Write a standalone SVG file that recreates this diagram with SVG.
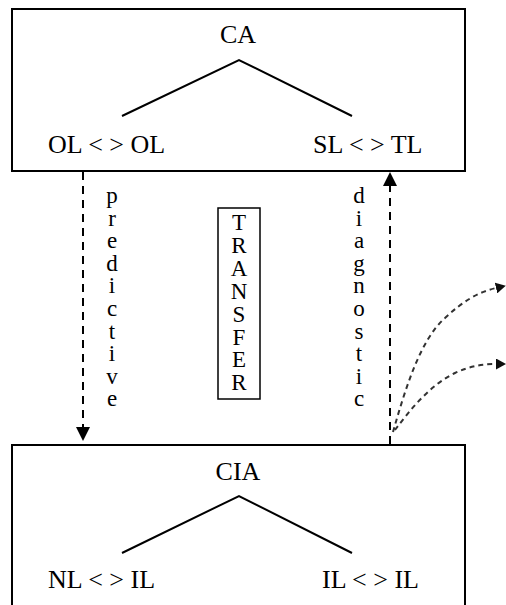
<svg xmlns="http://www.w3.org/2000/svg" width="506" height="605" viewBox="0 0 506 605">
  <style>
    text { font-family: "Liberation Serif", "Times New Roman", serif; fill: #000; }
    .box { fill: #fff; stroke: #000; stroke-width: 2; }
    .tree { fill: none; stroke: #000; stroke-width: 2; }
    .label { font-size: 26px; }
    .vert { font-size: 23px; text-anchor: middle; }
    .link { fill: none; stroke: #000; stroke-width: 2; stroke-dasharray: 8 6; }
    .soft { fill: none; stroke: #333; stroke-width: 2; stroke-dasharray: 5 4; }
  </style>
  <defs>
    <marker id="head" viewBox="0 0 14 14" markerWidth="14" markerHeight="14" refX="0" refY="7" orient="auto" markerUnits="userSpaceOnUse">
      <path d="M0,0 L14,7 L0,14 z" fill="#000"/>
    </marker>
    <marker id="headSmall" viewBox="0 0 10 11" markerWidth="10" markerHeight="11" refX="0" refY="5.5" orient="auto" markerUnits="userSpaceOnUse">
      <path d="M0,0 L10,5.5 L0,11 z" fill="#111"/>
    </marker>
    <filter id="haze" x="-10%" y="-10%" width="120%" height="120%">
      <feGaussianBlur stdDeviation="0.6"/>
    </filter>
  </defs>

  <!-- upper analysis box -->
  <g id="ca">
    <rect class="box" x="12" y="9" width="453" height="162"/>
    <text class="label" x="238" y="43" text-anchor="middle">CA</text>
    <polyline class="tree" points="122,116 239,60 352,116"/>
    <text class="label" x="48" y="153">OL &lt; &gt; OL</text>
    <text class="label" x="313" y="153">SL &lt; &gt; TL</text>
  </g>

  <!-- lower analysis box (runs past the bottom edge) -->
  <g id="cia">
    <rect class="box" x="12" y="445" width="453" height="200"/>
    <text class="label" x="238" y="480" text-anchor="middle">CIA</text>
    <polyline class="tree" points="122,553 239,496 352,553"/>
    <text class="label" x="48" y="588">NL &lt; &gt; IL</text>
    <text class="label" x="322" y="588">IL &lt; &gt; IL</text>
  </g>

  <!-- central transfer label -->
  <g id="transfer">
    <rect x="218" y="208" width="42" height="191" fill="none" stroke="#000" stroke-width="1.5"/>
    <text class="vert" x="239" y="230">
      <tspan x="239">T</tspan><tspan x="239" dy="22.9">R</tspan><tspan x="239" dy="22.9">A</tspan><tspan x="239" dy="22.9">N</tspan><tspan x="239" dy="22.9">S</tspan><tspan x="239" dy="22.9">F</tspan><tspan x="239" dy="22.9">E</tspan><tspan x="239" dy="22.9">R</tspan>
    </text>
  </g>

  <!-- connectors -->
  <g id="connectors">
    <line class="link" x1="83" y1="172" x2="83" y2="427" marker-end="url(#head)"/>
    <line class="link" x1="390" y1="444" x2="390" y2="186" marker-end="url(#head)"/>
    <g filter="url(#haze)">
      <path class="soft" d="M393,432 C405,390 420,340 445,318 C462,302 478,292 496,288" marker-end="url(#headSmall)"/>
      <path class="soft" d="M395,430 C410,410 430,385 455,373 C470,366 483,364 496,364" marker-end="url(#headSmall)"/>
    </g>
  </g>

  <!-- connector labels -->
  <g id="labels">
    <text class="vert" x="112" y="203">
      <tspan x="112">p</tspan><tspan x="112" dy="22.6">r</tspan><tspan x="112" dy="22.6">e</tspan><tspan x="112" dy="22.6">d</tspan><tspan x="112" dy="22.6">i</tspan><tspan x="112" dy="22.6">c</tspan><tspan x="112" dy="22.6">t</tspan><tspan x="112" dy="22.6">i</tspan><tspan x="112" dy="22.6">v</tspan><tspan x="112" dy="22.6">e</tspan>
    </text>
    <text class="vert" x="359" y="203">
      <tspan x="359">d</tspan><tspan x="359" dy="22.6">i</tspan><tspan x="359" dy="22.6">a</tspan><tspan x="359" dy="22.6">g</tspan><tspan x="359" dy="22.6">n</tspan><tspan x="359" dy="22.6">o</tspan><tspan x="359" dy="22.6">s</tspan><tspan x="359" dy="22.6">t</tspan><tspan x="359" dy="22.6">i</tspan><tspan x="359" dy="22.6">c</tspan>
    </text>
  </g>
</svg>
